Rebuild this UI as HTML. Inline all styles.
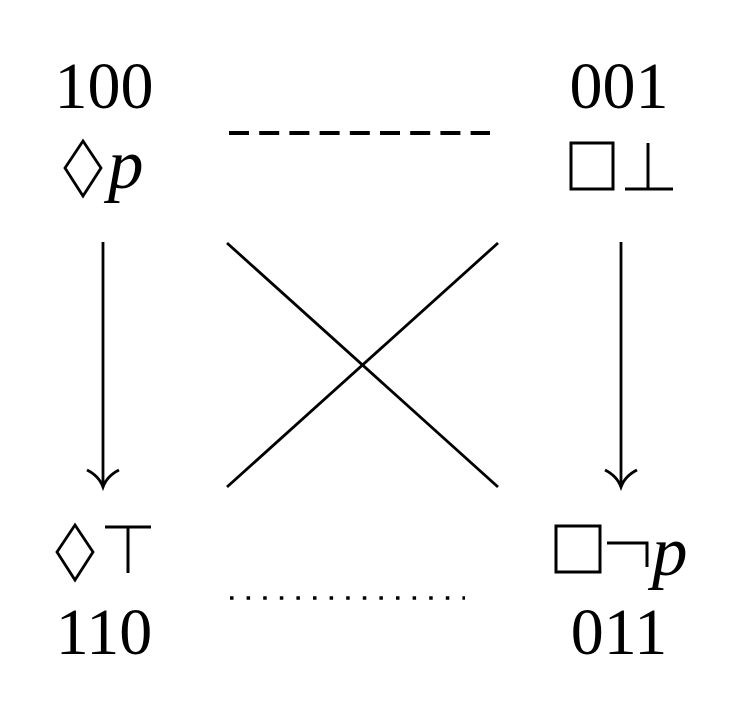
<!DOCTYPE html>
<html><head><meta charset="utf-8"><style>html,body{margin:0;padding:0;background:#fff}svg{display:block}</style></head>
<body>
<svg width="734" height="701" viewBox="0 0 734 701" xmlns="http://www.w3.org/2000/svg">
<g font-family="Liberation Serif, serif" font-size="66" fill="#000">
<text x="104" y="108" text-anchor="middle">100</text>
<text x="619" y="108" text-anchor="middle">001</text>
<text x="104" y="654" text-anchor="middle">110</text>
<text x="619" y="654" text-anchor="middle">011</text>
<text x="108" y="188" font-style="italic" font-size="71">p</text>
<text x="652" y="575" font-style="italic" font-size="71">p</text>
</g>
<g fill="none" stroke="#000" stroke-width="3">
<polygon points="83,141 101,168 83,196 65,168" stroke-width="2.8"/>
<polygon points="75,525 93,552 75,580 57,552" stroke-width="2.8"/>
<rect x="571" y="143" width="42" height="46"/>
<line x1="648" y1="143" x2="648" y2="189"/><line x1="625" y1="189" x2="673" y2="189"/>
<line x1="105" y1="527" x2="151" y2="527"/><line x1="128" y1="527" x2="128" y2="573"/>
<rect x="556" y="526" width="44" height="46"/>
<polyline points="607,543 647,543 647,567"/>
<line x1="229" y1="133" x2="490" y2="133" stroke-dasharray="20,10.2" stroke-width="4"/>
<line x1="230" y1="598" x2="465" y2="598" stroke-dasharray="3.5,13.1" stroke-width="3.5"/>
<line x1="103" y1="242" x2="103" y2="486" stroke-width="2.8"/>
<line x1="621" y1="242" x2="621" y2="486" stroke-width="2.8"/>
<path d="M87,470 Q99,476 103,487 Q107,476 119,470" stroke-width="2.8"/>
<path d="M605,470 Q617,476 621,487 Q625,476 637,470" stroke-width="2.8"/>
<line x1="227" y1="243" x2="498" y2="487" stroke-width="2.8"/>
<line x1="498" y1="243" x2="227" y2="487" stroke-width="2.8"/>
</g>
</svg>
</body></html>
